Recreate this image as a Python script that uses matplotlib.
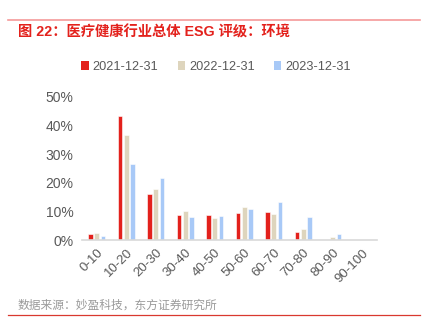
import matplotlib
matplotlib.use("Agg")
import matplotlib.pyplot as plt
from matplotlib.lines import Line2D
from matplotlib.patches import Patch
import numpy as np

plt.rcParams['font.family'] = ['Liberation Sans', 'Noto Sans CJK SC', 'DejaVu Sans']

categories = ["0-10", "10-20", "20-30", "30-40", "40-50", "50-60", "60-70", "70-80", "80-90", "90-100"]
series_names = ["2021-12-31", "2022-12-31", "2023-12-31"]
v2021 = [2.0, 43.5, 16.0, 8.6, 8.6, 9.3, 9.8, 2.9, 0.0, 0.0]
v2022 = [2.6, 36.8, 18.0, 10.2, 7.8, 11.4, 9.0, 4.0, 1.2, 0.0]
v2023 = [1.4, 26.7, 21.7, 8.1, 8.5, 10.9, 13.4, 8.2, 2.0, 0.0]
yticks = [0, 10, 20, 30, 40, 50]
title = "图 22：医疗健康行业总体 ESG 评级：环境"
source = "数据来源：妙盈科技，东方证券研究所"

colors = ["#E3211C", "#DED5BD", "#A8C9F7"]

fig = plt.figure(figsize=(4.30, 3.31), dpi=100)
ax = fig.add_axes([82/430, 1-240/331, 295/430, (240-97)/331])

x = np.arange(len(categories))
w = 0.155
off = 0.215
for i, (vals, c) in enumerate(zip([v2021, v2022, v2023], colors)):
    ax.bar(x + (i-1)*off, vals, width=w, color=c, edgecolor='white', linewidth=0.4, zorder=2)

ax.set_xlim(-0.5, len(categories)-0.5)
ax.set_ylim(0, 50)
ax.set_yticks(yticks)
ax.set_yticklabels([f"{t}%" for t in yticks], color="#595959", fontsize=10)
ax.set_xticks(x)
ax.set_xticklabels(categories, rotation=45, ha='right', rotation_mode='anchor', color="#595959", fontsize=9.5)
ax.tick_params(axis='both', length=0)
ax.tick_params(axis='y', pad=6)
ax.tick_params(axis='x', pad=5)
for s in ['top', 'right', 'left']:
    ax.spines[s].set_visible(False)
ax.spines['bottom'].set_color('#D9D9D9')
ax.spines['bottom'].set_linewidth(1.2)

handles = [Patch(facecolor=c, edgecolor='none') for c in colors]
fig.legend(handles, series_names, loc='center', bbox_to_anchor=(216/430, 1-67/331), ncol=3,
           frameon=False, fontsize=9.2, handlelength=0.6, handleheight=0.6, handletextpad=0.3,
           columnspacing=1.5, labelcolor="#595959")

fig.add_artist(Line2D([8/430, 420/430], [1-20/331, 1-20/331], color="#F59A9A", linewidth=1.2))
fig.text(18/430, 1-32/331, title, color="#E3211C", fontsize=10.3, fontweight='bold', va='center', ha='left')
fig.text(18/430, 1-306/331, source, color="#9A9A9A", fontsize=8.5, va='center', ha='left')
fig.add_artist(Line2D([8/430, 420/430], [1-315/331, 1-315/331], color="#D9382F", linewidth=0.9))

fig.savefig("out.png", dpi=100)
